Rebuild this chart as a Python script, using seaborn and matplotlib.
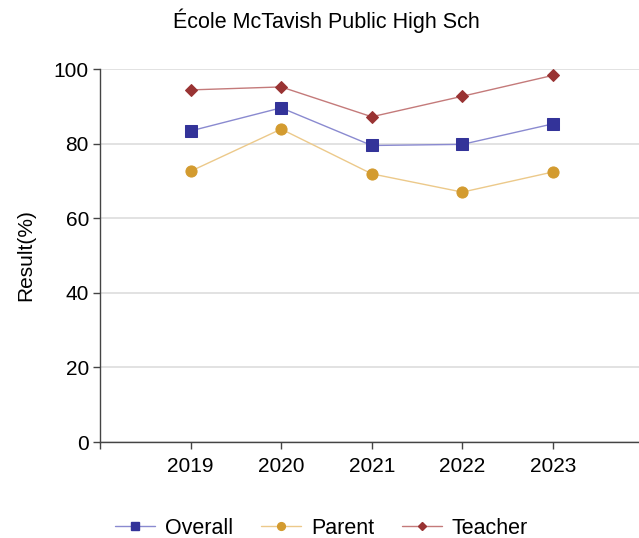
import matplotlib
matplotlib.use("Agg")
import matplotlib.pyplot as plt
import seaborn as sns
import pandas as pd
from matplotlib.lines import Line2D

years = ["2019", "2020", "2021", "2022", "2023"]
overall = [83.4, 89.6, 79.5, 79.8, 85.3]
parent = [72.6, 83.9, 71.9, 67.0, 72.4]
teacher = [94.4, 95.2, 87.2, 92.7, 98.3]
y_ticks = [0, 20, 40, 60, 80, 100]
title = "École McTavish Public High Sch"

sns.set_style("white")
plt.rcParams["font.family"] = ["Liberation Sans", "DejaVu Sans"]

fig = plt.figure(figsize=(6.39, 5.38), dpi=100)
ax = fig.add_axes([0.1565, 0.1784, 0.8435, 0.6933])

series = [
    ("Overall", overall, "#333399", "#8a8ad0", "s", 8),
    ("Parent", parent, "#d39b2f", "#ecc98a", "o", 8),
    ("Teacher", teacher, "#993333", "#c47a7a", "D", 6),
]

idx = list(range(len(years)))
handles = []
for name, vals, mc, lc, mk, ms in series:
    df = pd.DataFrame({"x": idx, "y": vals})
    sns.lineplot(data=df, x="x", y="y", ax=ax, color=lc, linewidth=1,
                 marker=mk, markersize=ms, markerfacecolor=mc,
                 markeredgecolor=mc, clip_on=False, zorder=3)
    handles.append(Line2D([0], [0], color=lc, linewidth=1, marker=mk,
                          markersize=ms * 0.7, markerfacecolor=mc,
                          markeredgecolor=mc, label=name))

ax.set_xlim(-1, 4.95)
ax.set_ylim(0, 100)
ax.set_xticks([-1] + idx)
ax.set_xticklabels([""] + years)
ax.set_yticks(y_ticks)
ax.tick_params(axis="both", labelsize=15, length=5, color="#444444",
               direction="out", width=1, bottom=True, left=True,
               labelcolor="black")
ax.tick_params(axis="x", pad=6)
ax.tick_params(axis="y", pad=3)
ax.yaxis.grid(True, color="#dddddd", linewidth=1.2)
ax.set_axisbelow(True)
for s in ["top", "right"]:
    ax.spines[s].set_visible(False)
for s in ["left", "bottom"]:
    ax.spines[s].set_color("#444444")
    ax.spines[s].set_linewidth(1)
ax.set_xlabel("")
ax.set_ylabel("Result(%)", fontsize=15, labelpad=13, color="black")
fig.text(0.51, 0.962, title, ha="center", va="center", fontsize=15.5,
         color="black")

fig.legend(handles=handles, loc="center", bbox_to_anchor=(0.503, 0.018),
           ncol=3, frameon=False, fontsize=15.5, handlelength=1.85,
           columnspacing=1.3, handletextpad=0.47, labelcolor="black")

fig.savefig("out.png", dpi=100)
